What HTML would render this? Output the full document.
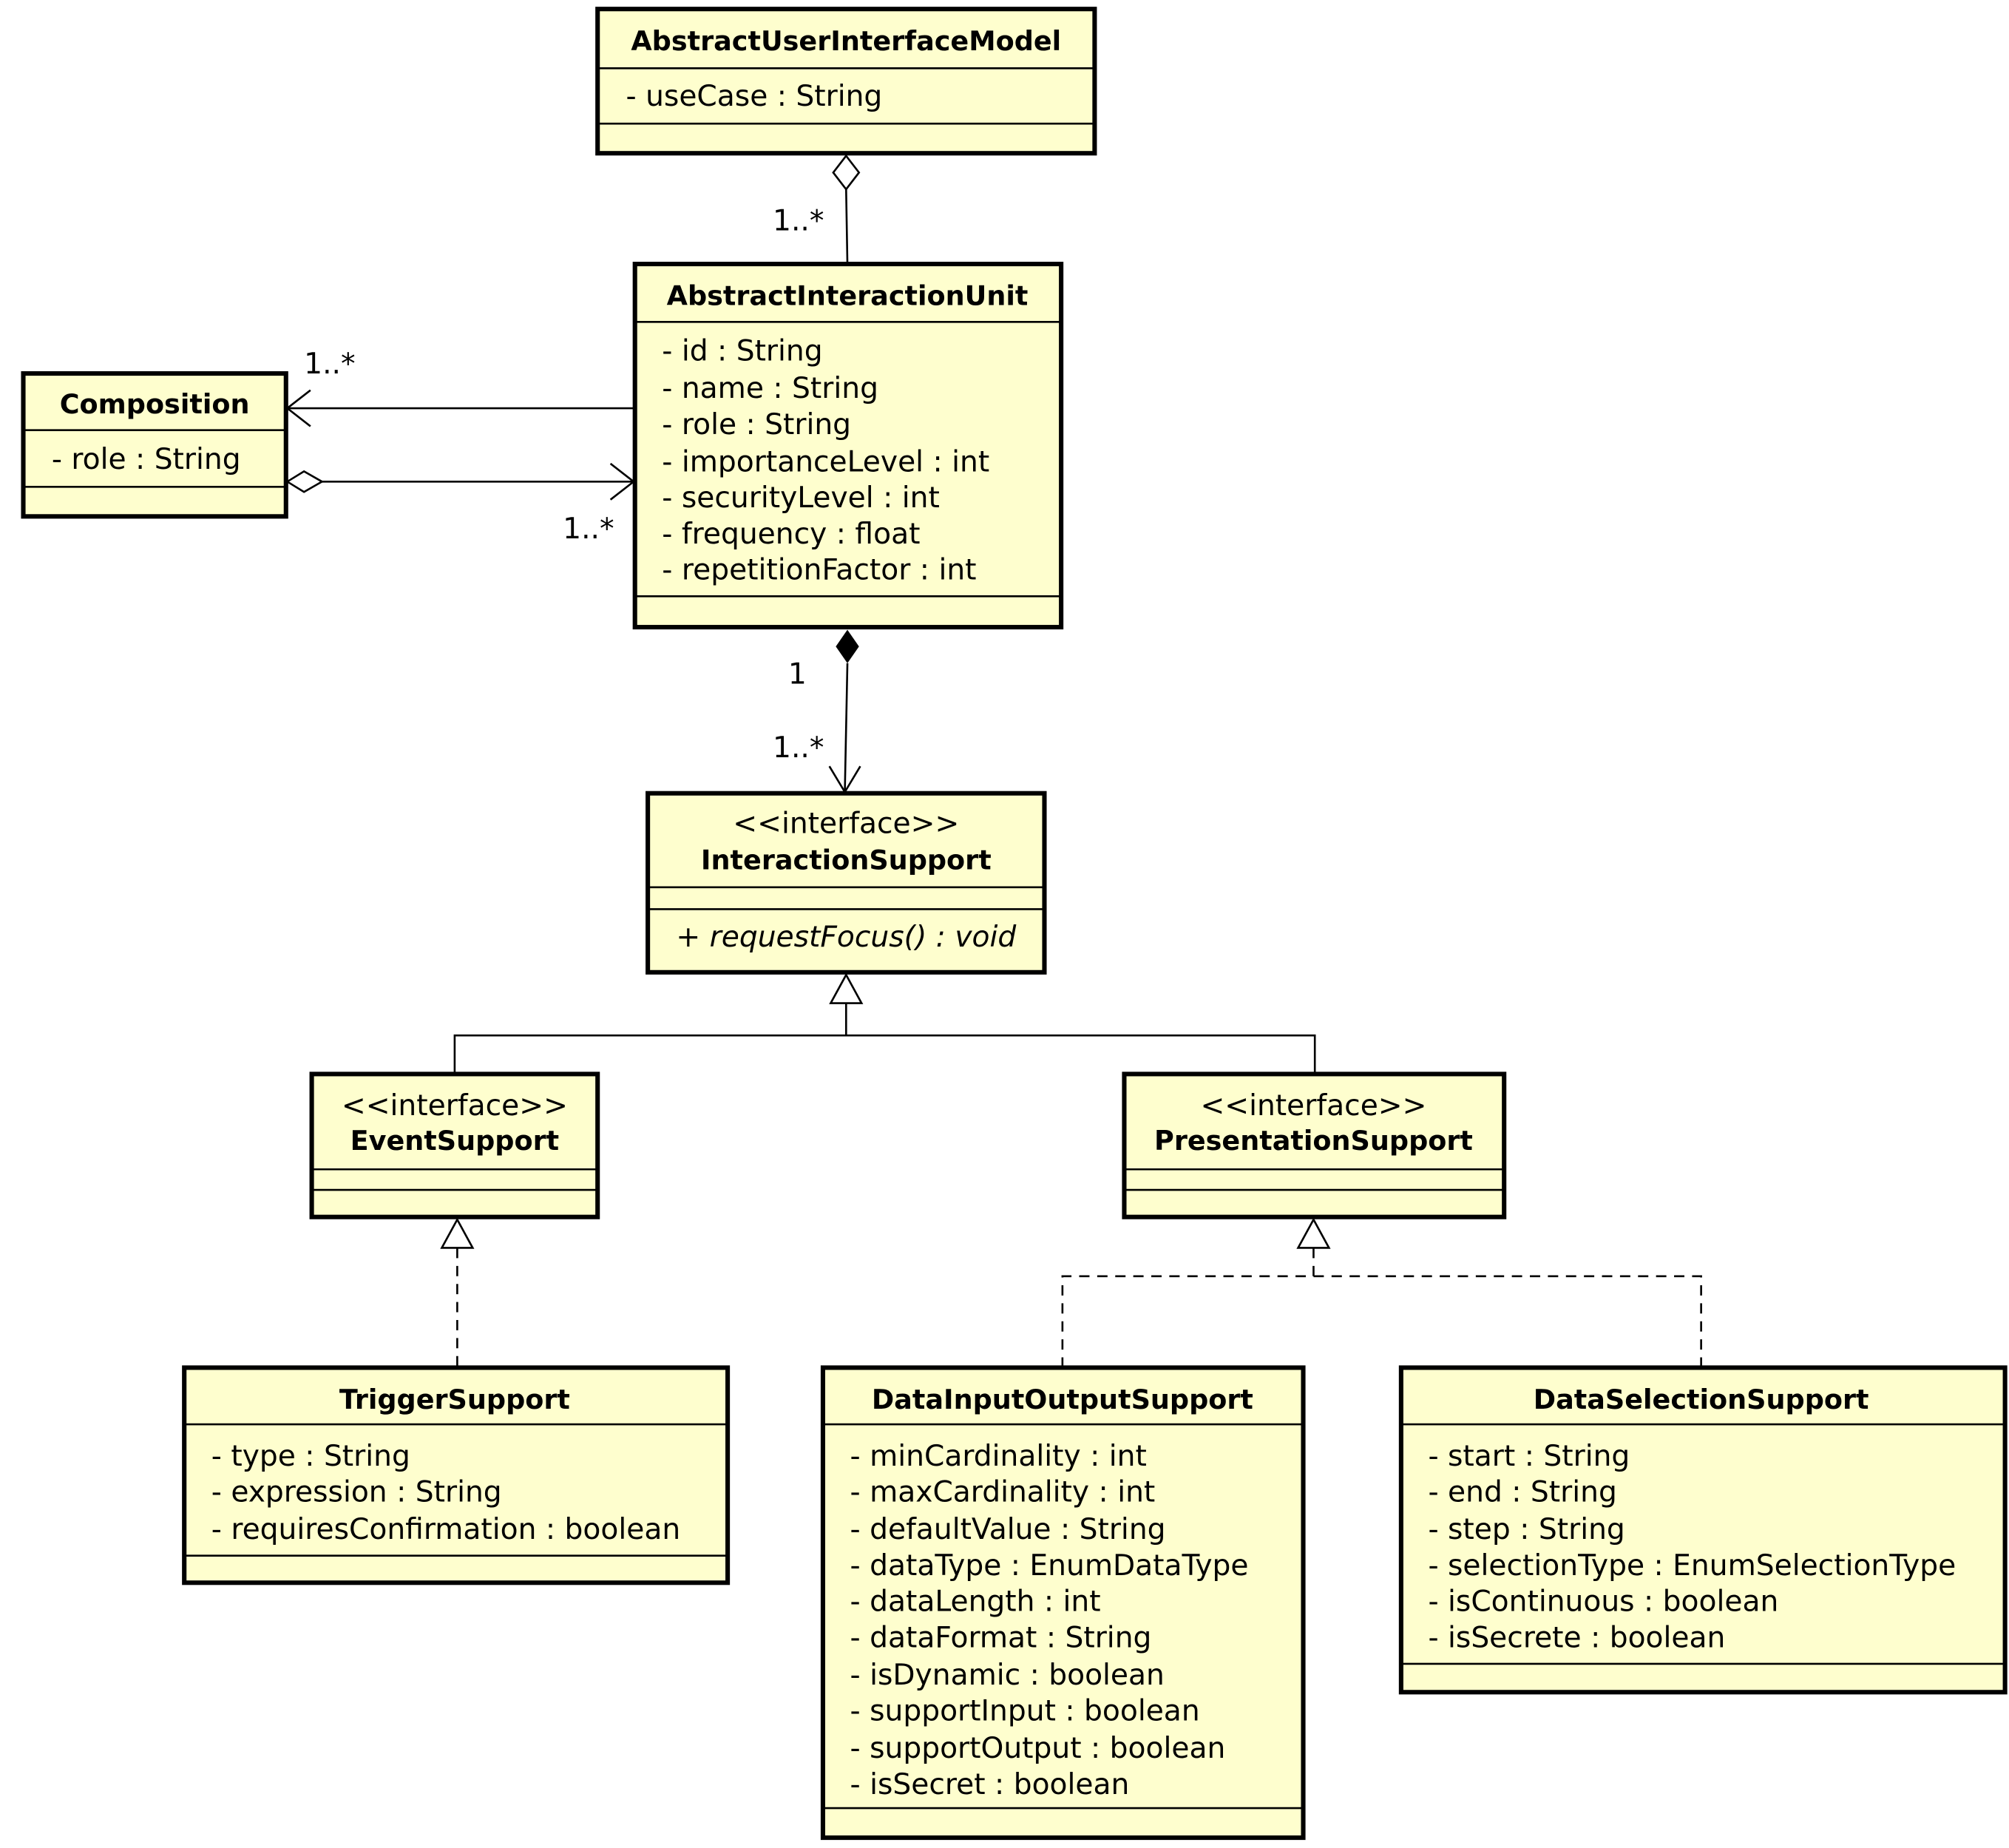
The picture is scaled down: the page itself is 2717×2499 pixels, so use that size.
<!DOCTYPE html>
<html><head><style>html,body{margin:0;padding:0;background:#fff}svg{display:block}</style></head>
<body>
<svg width="2717" height="2499" viewBox="0 0 1560 1435" xmlns="http://www.w3.org/2000/svg" font-family="'DejaVu Sans','Liberation Sans',sans-serif" font-size="22.5" fill="#000">
<defs><style>.b{fill:#fefece;stroke:#000;stroke-width:3.5}.l{stroke:#000;stroke-width:1.5;fill:none}.t{font-weight:bold;text-anchor:middle;font-size:21px}.c{text-anchor:middle}</style></defs>
<!-- AUIM -->
<rect class="b" x="464" y="7" width="386" height="112"/>
<line class="l" x1="464" y1="53" x2="850" y2="53"/><line class="l" x1="464" y1="96" x2="850" y2="96"/>
<text class="t" x="657" y="39">AbstractUserInterfaceModel</text>
<text x="486" y="82">- useCase : String</text>
<!-- AIU -->
<rect class="b" x="493" y="205" width="331" height="282"/>
<line class="l" x1="493" y1="250" x2="824" y2="250"/><line class="l" x1="493" y1="463" x2="824" y2="463"/>
<text class="t" x="658" y="237">AbstractInteractionUnit</text>
<text x="514" y="280">- id : String</text>
<text x="514" y="309">- name : String</text>
<text x="514" y="337">- role : String</text>
<text x="514" y="366">- importanceLevel : int</text>
<text x="514" y="394">- securityLevel : int</text>
<text x="514" y="422">- frequency : float</text>
<text x="514" y="450">- repetitionFactor : int</text>
<!-- Composition -->
<rect class="b" x="18" y="290" width="204" height="111"/>
<line class="l" x1="18" y1="334" x2="222" y2="334"/><line class="l" x1="18" y1="378" x2="222" y2="378"/>
<text class="t" x="120" y="321">Composition</text>
<text x="40" y="364">- role : String</text>
<!-- InteractionSupport -->
<rect class="b" x="503" y="616" width="308" height="139"/>
<line class="l" x1="503" y1="689" x2="811" y2="689"/><line class="l" x1="503" y1="706" x2="811" y2="706"/>
<text class="c" x="657" y="647">&lt;&lt;interface&gt;&gt;</text>
<text class="t" x="657" y="675">InteractionSupport</text>
<text class="c" x="657" y="735" font-style="italic">+ requestFocus() : void</text>
<!-- EventSupport -->
<rect class="b" x="242" y="834" width="222" height="111"/>
<line class="l" x1="242" y1="908" x2="464" y2="908"/><line class="l" x1="242" y1="924" x2="464" y2="924"/>
<text class="c" x="353" y="866">&lt;&lt;interface&gt;&gt;</text>
<text class="t" x="353" y="893">EventSupport</text>
<!-- PresentationSupport -->
<rect class="b" x="873" y="834" width="295" height="111"/>
<line class="l" x1="873" y1="908" x2="1168" y2="908"/><line class="l" x1="873" y1="924" x2="1168" y2="924"/>
<text class="c" x="1020" y="866">&lt;&lt;interface&gt;&gt;</text>
<text class="t" x="1020" y="893">PresentationSupport</text>
<!-- TriggerSupport -->
<rect class="b" x="143" y="1062" width="422" height="167"/>
<line class="l" x1="143" y1="1106" x2="565" y2="1106"/><line class="l" x1="143" y1="1208" x2="565" y2="1208"/>
<text class="t" x="353" y="1094">TriggerSupport</text>
<text x="164" y="1138">- type : String</text>
<text x="164" y="1166">- expression : String</text>
<text x="164" y="1195">- requiresConfirmation : boolean</text>
<!-- DIOS -->
<rect class="b" x="639" y="1062" width="373" height="365"/>
<line class="l" x1="639" y1="1106" x2="1012" y2="1106"/><line class="l" x1="639" y1="1404" x2="1012" y2="1404"/>
<text class="t" x="825" y="1094">DataInputOutputSupport</text>
<text x="660" y="1138">- minCardinality : int</text>
<text x="660" y="1166">- maxCardinality : int</text>
<text x="660" y="1195">- defaultValue : String</text>
<text x="660" y="1223">- dataType : EnumDataType</text>
<text x="660" y="1251">- dataLength : int</text>
<text x="660" y="1279">- dataFormat : String</text>
<text x="660" y="1308">- isDynamic : boolean</text>
<text x="660" y="1336">- supportInput : boolean</text>
<text x="660" y="1365">- supportOutput : boolean</text>
<text x="660" y="1393">- isSecret : boolean</text>
<!-- DSS -->
<rect class="b" x="1088" y="1062" width="469" height="252"/>
<line class="l" x1="1088" y1="1106" x2="1557" y2="1106"/><line class="l" x1="1088" y1="1292" x2="1557" y2="1292"/>
<text class="t" x="1321" y="1094">DataSelectionSupport</text>
<text x="1109" y="1138">- start : String</text>
<text x="1109" y="1166">- end : String</text>
<text x="1109" y="1195">- step : String</text>
<text x="1109" y="1223">- selectionType : EnumSelectionType</text>
<text x="1109" y="1251">- isContinuous : boolean</text>
<text x="1109" y="1279">- isSecrete : boolean</text>
<!-- connectors -->
<path class="l" d="M657 121 L647 134 L657 147 L667 134 Z" fill="#fff"/>
<line class="l" x1="657" y1="147" x2="658" y2="205"/>
<text x="600" y="179">1..*</text>
<line class="l" x1="493" y1="317" x2="223" y2="317"/>
<path class="l" d="M241 303 L223 317 L241 331"/>
<text x="236" y="290">1..*</text>
<path class="l" d="M223 374 L236 366 L250 374 L236 382 Z" fill="#fff"/>
<line class="l" x1="250" y1="374" x2="492" y2="374"/>
<path class="l" d="M474 360 L492 374 L474 388"/>
<text x="437" y="418">1..*</text>
<path d="M658 489 L649 502 L658 515 L667 502 Z" fill="#000"/>
<line class="l" x1="658" y1="515" x2="656" y2="615"/>
<path class="l" d="M644 595 L656 615 L668 595"/>
<text x="612" y="531">1</text>
<text x="600" y="588">1..*</text>
<path class="l" d="M657 757 L645 779 L669 779 Z" fill="#fff"/>
<path class="l" d="M657 779 V804 M353 834 V804 H1021 V834"/>
<path class="l" d="M355 947 L343 969 L367 969 Z" fill="#fff"/>
<line class="l" x1="355" y1="969" x2="355" y2="1062" stroke-dasharray="8,6"/>
<path class="l" d="M1020 947 L1008 969 L1032 969 Z" fill="#fff"/>
<path class="l" d="M1020 969 V991 M825 1062 V991 H1321 V1062" stroke-dasharray="8,6"/>
</svg>
</body></html>
